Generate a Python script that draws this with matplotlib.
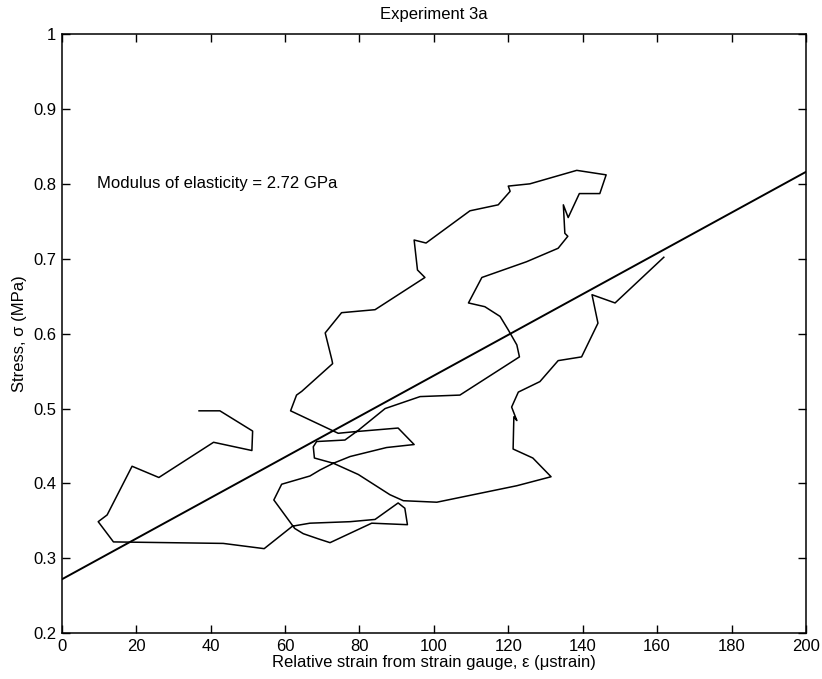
import numpy as np
import matplotlib
matplotlib.use("Agg")
import matplotlib.pyplot as plt

plt.rcParams["font.family"] = ["Liberation Sans", "DejaVu Sans"]

# Measured stress-strain trace (strain in microstrain, stress in MPa)
strain = [36.9, 42.5, 51.3, 51.1, 40.8, 26.1, 18.9, 12.2, 9.8, 13.9,
          43.4, 54.4, 62.0, 66.7, 77.5, 84.2, 90.4, 92.2, 92.9, 83.3,
          72.1, 69.0, 64.9, 62.6, 57.0, 59.1, 66.7, 69.4, 73.0, 77.5,
          87.3, 94.7, 90.4, 78.4, 74.3, 61.5, 63.1, 64.5, 72.8, 72.6,
          70.8, 75.2, 84.2, 97.6, 95.6, 94.7, 97.9, 109.7, 117.3, 120.5,
          120.0, 125.8, 138.4, 146.3, 144.6, 139.1, 136.1, 134.8, 135.2, 136.0,
          133.4, 124.9, 112.9, 109.3, 113.7, 117.8, 120.0, 122.3, 123.0, 107.0,
          96.3, 86.9, 79.7, 76.1, 68.5, 67.6, 67.9, 73.0, 79.7, 88.2,
          91.8, 100.8, 122.3, 131.5, 126.6, 121.3, 121.5, 122.3, 120.9, 122.7,
          128.5, 133.4, 139.7, 144.1, 142.5, 148.7, 161.8]
stress = [0.497, 0.497, 0.470, 0.444, 0.455, 0.408, 0.423, 0.358, 0.349, 0.322,
          0.320, 0.313, 0.343, 0.347, 0.349, 0.352, 0.374, 0.367, 0.345, 0.347,
          0.321, 0.326, 0.333, 0.340, 0.378, 0.399, 0.410, 0.418, 0.427, 0.436,
          0.448, 0.452, 0.474, 0.469, 0.467, 0.497, 0.518, 0.523, 0.560, 0.565,
          0.601, 0.628, 0.632, 0.675, 0.685, 0.725, 0.721, 0.764, 0.772, 0.790,
          0.797, 0.800, 0.818, 0.812, 0.787, 0.787, 0.755, 0.772, 0.734, 0.730,
          0.714, 0.696, 0.675, 0.641, 0.636, 0.623, 0.605, 0.585, 0.569, 0.518,
          0.516, 0.500, 0.471, 0.458, 0.456, 0.449, 0.434, 0.427, 0.412, 0.385,
          0.377, 0.375, 0.397, 0.409, 0.434, 0.446, 0.489, 0.484, 0.502, 0.522,
          0.536, 0.564, 0.569, 0.614, 0.652, 0.641, 0.702]

# Linear fit: stress = intercept + modulus * strain
modulus_gpa = 2.72
intercept = 0.272
fit_strain = [0, 200]

xticks = [0, 20, 40, 60, 80, 100, 120, 140, 160, 180, 200]
yticks = [0.2, 0.3, 0.4, 0.5, 0.6, 0.7, 0.8, 0.9, 1.0]
ytick_labels = ["0.2", "0.3", "0.4", "0.5", "0.6", "0.7", "0.8", "0.9", "1"]

fig = plt.figure(figsize=(8.22, 6.79), dpi=100)
ax = fig.add_axes([0.0751, 0.0673, 0.9054, 0.8826])

ax.plot(strain, stress, color="black", lw=1.1)
fit_stress = [intercept + modulus_gpa * 1e-3 * s for s in fit_strain]
ax.plot(fit_strain, fit_stress, color="black", lw=1.4)

ax.text(9.5, 0.801, f"Modulus of elasticity = {modulus_gpa:.2f} GPa",
        fontsize=12, va="center", ha="left")

ax.set_xlim(0, 200)
ax.set_ylim(0.2, 1.0)
ax.set_xticks(xticks)
ax.set_xticklabels([str(t) for t in xticks])
ax.set_yticks(yticks)
ax.set_yticklabels(ytick_labels)
ax.tick_params(direction="in", top=True, right=True, length=6, width=1,
               labelsize=12, pad=4)
for sp in ax.spines.values():
    sp.set_linewidth(1.1)

ax.set_title("Experiment 3a", fontsize=12, pad=11)
ax.set_xlabel("Relative strain from strain gauge, \u03b5 (\u03bcstrain)", fontsize=12, labelpad=1)
ax.set_ylabel("Stress, \u03c3 (MPa)", fontsize=12, labelpad=4)

fig.savefig("out.png", dpi=100)
